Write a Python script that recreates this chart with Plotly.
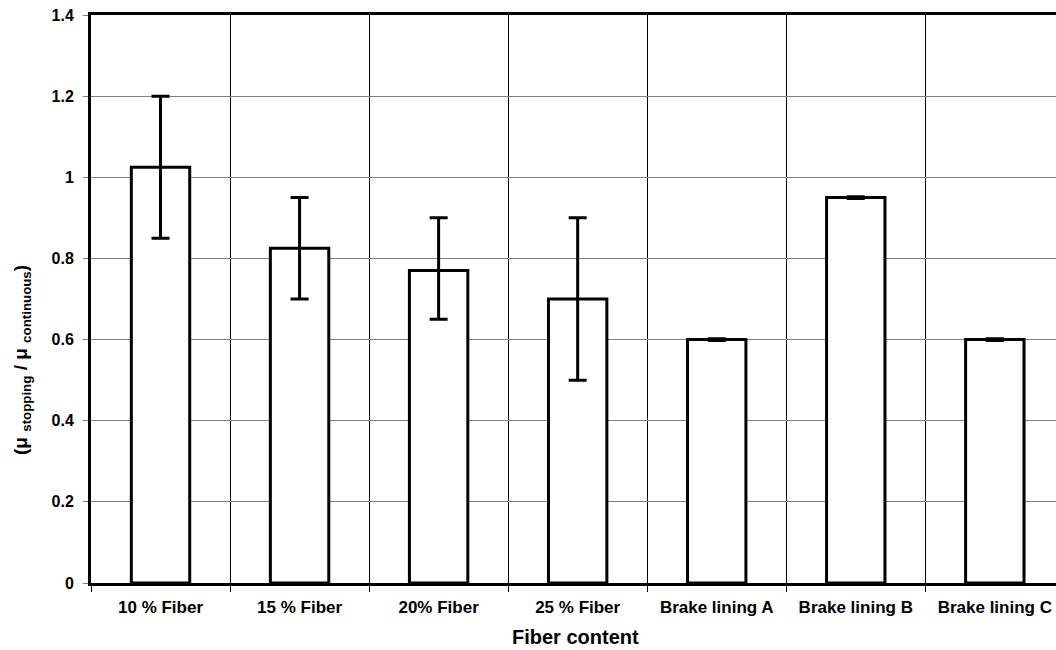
import plotly.graph_objects as go

categories = ["10 % Fiber", "15 % Fiber", "20% Fiber", "25 % Fiber",
              "Brake lining A", "Brake lining B", "Brake lining C"]
ratio = [1.025, 0.825, 0.77, 0.70, 0.60, 0.95, 0.60]
err_plus = [0.175, 0.125, 0.13, 0.20, 0.002, 0.002, 0.002]
err_minus = [0.175, 0.125, 0.12, 0.20, 0.002, 0.002, 0.002]
y_ticks = [0, 0.2, 0.4, 0.6, 0.8, 1, 1.2, 1.4]
y_tick_text = ["0", "0.2", "0.4", "0.6", "0.8", "1", "1.2", "1.4"]
x_title = "Fiber content"
y_title = "(μ <sub>stopping</sub> / μ <sub>continuous</sub>)"

FONT = "Arial, 'Liberation Sans', sans-serif"

fig = go.Figure(go.Bar(
    x=categories, y=ratio, width=0.42,
    marker=dict(color="white", line=dict(color="black", width=3)),
    error_y=dict(type="data", symmetric=False, array=err_plus, arrayminus=err_minus,
                 color="black", thickness=3, width=9),
))

fig.update_layout(
    width=1056, height=650,
    margin=dict(l=91, r=0, t=15, b=67),
    plot_bgcolor="white", paper_bgcolor="white",
    font=dict(family=FONT, color="black", size=13),
    showlegend=False,
    annotations=[
        dict(text="<b>" + x_title + "</b>", xref="paper", yref="paper",
             x=0.502, y=0, xanchor="center", yanchor="top", yshift=-41,
             showarrow=False, font=dict(family=FONT, size=20, color="black")),
        dict(text="<b>" + y_title + "</b>", xref="paper", yref="paper",
             x=0, y=0.3926, xanchor="center", yanchor="middle", xshift=-69,
             textangle=-90, showarrow=False,
             font=dict(family=FONT, size=19, color="black")),
    ],
)
fig.update_xaxes(
    range=[-0.5, 6.44],
    showline=True, linecolor="black", linewidth=3, mirror=True,
    showgrid=True, gridcolor="black", gridwidth=1,
    tickson="boundaries", ticks="outside", ticklen=6, tickcolor="black", tickwidth=1,
    ticklabelstandoff=7,
    tickfont=dict(family=FONT, size=17, weight="bold"),
)
fig.update_yaxes(
    range=[0, 1.4], tickvals=y_ticks, ticktext=y_tick_text,
    showline=True, linecolor="black", linewidth=3,
    showgrid=True, gridcolor="#808080", gridwidth=1, zeroline=False,
    ticks="outside", ticklen=5, tickcolor="#808080", tickwidth=1,
    ticklabelstandoff=6, ticklabeloverflow="allow",
    tickfont=dict(family=FONT, size=16, weight="bold"),
)

fig.write_html("out.html", config={"displayModeBar": False},
               post_script="document.body.style.margin='0';")
